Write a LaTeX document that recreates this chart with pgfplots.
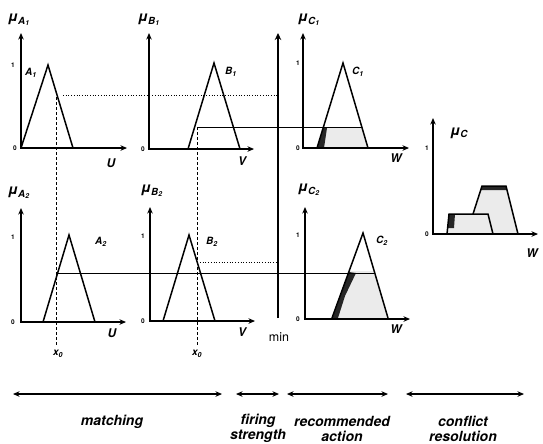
\documentclass[border=0pt]{standalone}
\usepackage{fontspec}
\setmainfont{TeX Gyre Heros}
\usepackage{pgfplots}
\pgfplotsset{compat=1.18}
\usetikzlibrary{arrows.meta}
\begin{document}
\begin{tikzpicture}[font=\bfseries\itshape]
\begin{axis}[width=543pt,height=443pt,scale only axis,
  xmin=0,xmax=543,ymin=0,ymax=443,y dir=reverse,hide axis,clip=false,
  ax/.style={black,line width=1.6pt,{Stealth[length=6.5pt,width=5.5pt]}-{Stealth[length=6.5pt,width=5.5pt]}},
  tri/.style={black,line width=1.5pt,line join=miter},
  shade/.style={draw=none,fill=gray!16},
  dark/.style={draw=none,fill=black!85},
  dots/.style={black,line width=0.7pt,dotted},
  dash/.style={black,line width=1pt,densely dashed},
  conn/.style={black,line width=1pt},
  bot/.style={black,line width=1.6pt,{Stealth[length=6.5pt,width=5.5pt]}-{Stealth[length=6.5pt,width=5.5pt]}},
]
% invisible frame for bounding box
\addplot[draw=none] coordinates {(0,0) (543,443)};

% ---- shaded areas ----
\addplot[shade] coordinates {(317,148) (323.4,127) (361.6,127) (368,148)} --cycle;
\addplot[dark] coordinates {(317.5,148) (323.4,128) (327,128) (324,148)} --cycle;
\addplot[shade] coordinates {(332,318) (349.1,271) (374.2,271) (388,318)} --cycle;
\addplot[dark] coordinates {(332.5,318) (349,272) (356,273) (345,296) (338,318)} --cycle;
\addplot[shade] coordinates {(447,234) (449,214) (473,214) (482,186) (506,186) (518,234)} --cycle;
\addplot[dark] coordinates {(481,190) (482,186) (506,186) (507,190)} --cycle;
\addplot[dark] coordinates {(448,228) (449,214) (455,214) (454,228)} --cycle;

% ---- connecting lines ----
\addplot[dots] coordinates {(63,95) (277,95)};
\addplot[dots] coordinates {(200,262) (278,262)};
\addplot[dash] coordinates {(56,92) (56,345)};
\addplot[dash] coordinates {(197,127) (197,345)};
\addplot[conn] coordinates {(197,127) (362,127)};
\addplot[conn] coordinates {(57,273) (374,273)};
% min line
\addplot[black,line width=2.8pt,-{Stealth[length=7pt,width=6.5pt]}] coordinates {(278,318) (278,33)};

% ---- panel axes ----
\addplot[ax] coordinates {(21,33) (21,148) (127,148)};
\addplot[ax] coordinates {(21,208) (21,322) (126,322)};
\addplot[ax] coordinates {(149,33) (149,149) (254,149)};
\addplot[ax] coordinates {(150,207) (150,321) (255,321)};
\addplot[ax] coordinates {(303,33) (303,148) (409,148)};
\addplot[ax] coordinates {(305,207) (305,319) (410,319)};
\addplot[ax] coordinates {(433,118) (433,234) (538,234)};

% ---- membership functions ----
\addplot[tri] coordinates {(21,148) (48,65) (73,148)};
\addplot[tri] coordinates {(43,322) (69,235) (95,322)};
\addplot[tri] coordinates {(188,149) (214,63) (240,149)};
\addplot[tri] coordinates {(163,321) (189,235) (215,321)};
\addplot[tri] coordinates {(317,148) (343,63) (368,148)};
\addplot[tri] coordinates {(332,318) (363,233) (388,318)};
% aggregated result
\addplot[tri] coordinates {(447,234) (449,214) (488,214) (493,234)};
\addplot[tri] coordinates {(473,214) (482,186) (506,186) (518,234)};

% ---- bottom arrows ----
\addplot[bot] coordinates {(13,394) (222,394)};
\addplot[bot] coordinates {(236,394) (279,394)};
\addplot[bot] coordinates {(287,394) (388,394)};
\addplot[bot] coordinates {(406,394) (524,394)};

% ---- labels ----
\def\mufont{\fontsize{14}{15}\selectfont}
\node[font=\mufont\bfseries\itshape] at (axis cs:19,20) {μ\textsubscript{A\textsubscript{1}}};
\node[font=\mufont\bfseries\itshape] at (axis cs:149,20) {μ\textsubscript{B\textsubscript{1}}};
\node[font=\mufont\bfseries\itshape] at (axis cs:309,20) {μ\textsubscript{C\textsubscript{1}}};
\node[font=\mufont\bfseries\itshape] at (axis cs:19,193) {μ\textsubscript{A\textsubscript{2}}};
\node[font=\mufont\bfseries\itshape] at (axis cs:152,191) {μ\textsubscript{B\textsubscript{2}}};
\node[font=\mufont\bfseries\itshape] at (axis cs:309,190) {μ\textsubscript{C\textsubscript{2}}};
\node[font=\mufont\bfseries\itshape] at (axis cs:459,133) {μ\textsubscript{C}};

\def\sfont{\fontsize{10}{11}\selectfont}
\node[font=\sfont\bfseries\itshape] at (axis cs:31,73) {A\textsubscript{1}};
\node[font=\sfont\bfseries\itshape] at (axis cs:231,72) {B\textsubscript{1}};
\node[font=\sfont\bfseries\itshape] at (axis cs:358,72) {C\textsubscript{1}};
\node[font=\sfont\bfseries\itshape] at (axis cs:101,242) {A\textsubscript{2}};
\node[font=\sfont\bfseries\itshape] at (axis cs:212,242) {B\textsubscript{2}};
\node[font=\sfont\bfseries\itshape] at (axis cs:382,241) {C\textsubscript{2}};

\def\afont{\fontsize{12}{13}\selectfont}
\node[font=\afont\bfseries\itshape] at (axis cs:111,163) {U};
\node[font=\afont\bfseries\itshape] at (axis cs:112,333) {U};
\node[font=\afont\bfseries\itshape] at (axis cs:242,161) {V};
\node[font=\afont\bfseries\itshape] at (axis cs:242,332) {V};
\node[font=\afont\bfseries\itshape] at (axis cs:396,158) {W};
\node[font=\afont\bfseries\itshape] at (axis cs:396,329) {W};
\node[font=\afont\bfseries\itshape] at (axis cs:532,253) {W};

\def\tfont{\fontsize{6.5}{7}\selectfont}
\foreach \x/\y/\t in {13/65/1,15/148/0,13/237/1,13/322/0,143/149/0,143/236/1,143/321/0,298/63/1,298/148/0,298/235/1,298/319/0,427/148/1,427/234/0}{
  \edef\tmp{\noexpand\node[font=\noexpand\tfont\noexpand\bfseries] at (axis cs:\x,\y) {\t};}\tmp
}

\node[font=\fontsize{10}{11}\selectfont\bfseries\itshape] at (axis cs:58,354) {x\textsubscript{0}};
\node[font=\fontsize{10}{11}\selectfont\bfseries\itshape] at (axis cs:197,354) {x\textsubscript{0}};
\node[font=\fontsize{12.5}{13}\selectfont\mdseries\upshape] at (axis cs:279,337) {min};

\def\bfontsz{\fontsize{14}{15}\selectfont}
\node[font=\bfontsz\bfseries\itshape] at (axis cs:112,422) {matching};
\node[font=\bfontsz\bfseries\itshape,align=center,inner sep=1pt] at (axis cs:258,428.5) {firing\\strength};
\node[font=\bfontsz\bfseries\itshape,align=center,inner sep=1pt] at (axis cs:342,428.5) {recommended\\action};
\node[font=\bfontsz\bfseries\itshape,align=center,inner sep=1pt] at (axis cs:463,428.5) {conflict\\resolution};
\end{axis}
\end{tikzpicture}
\end{document}
